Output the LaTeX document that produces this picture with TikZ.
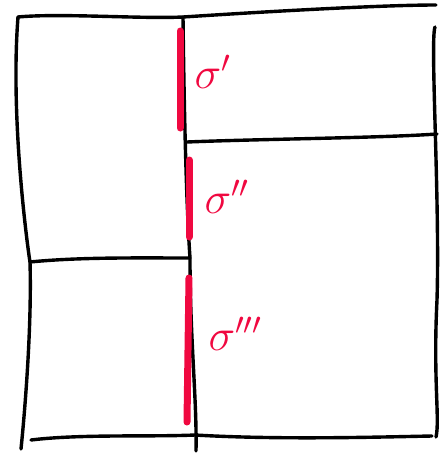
\documentclass[tikz,border=0pt]{standalone}
\usepackage{tikz}
\definecolor{pen}{RGB}{240,8,64}
\tikzset{
  ink/.style={line width=3.4pt, line cap=round, line join=round, black},
  hl/.style={line width=7pt, line cap=round, pen},
  lbl/.style={pen, font=\LARGE, scale=2.6, inner sep=0pt, anchor=west}
}
\begin{document}
\begin{tikzpicture}[x=1pt,y=-1pt]
\useasboundingbox (0,0) rectangle (441,453);
% frame coordinates
\coordinate (tl) at (18,17);
\coordinate (tm) at (183,17);
\coordinate (tr) at (436,5);
\coordinate (rt) at (435,27);
\coordinate (rb) at (436,437);
\coordinate (bl) at (31,440);
\coordinate (bm) at (195,435);
\coordinate (br) at (432,436);
\coordinate (lb) at (21,449);
\coordinate (mb) at (196,451);
\coordinate (ml) at (30,262);
\coordinate (mm) at (190,258);
\coordinate (rm0) at (187,142);
\coordinate (rm1) at (437,134);
% outer lines
\draw[ink] (tl) .. controls (60,13) and (140,19) .. (tm) .. controls (260,12) and (380,5) .. (tr);
\draw[ink] (tl) .. controls (10,120) and (28,250) .. (ml) .. controls (32,330) and (24,420) .. (lb);
\draw[ink] (rt) .. controls (430,40) and (440,200) .. (437,300) .. controls (433,380) and (440,420) .. (rb);
\draw[ink] (bl) .. controls (80,434) and (150,437) .. (bm) .. controls (280,440) and (380,437) .. (br);
% middle vertical
\draw[ink] (tm) .. controls (184,100) and (186,200) .. (mm) .. controls (190,340) and (197,400) .. (mb);
% dividers
\draw[ink] (ml) .. controls (80,257) and (140,258) .. (mm);
\draw[ink] (rm0) .. controls (260,139) and (380,138) .. (rm1);
% red highlights
\coordinate (a1) at (180,31);
\coordinate (a2) at (180,128);
\coordinate (b1) at (189,160);
\coordinate (b2) at (189,237);
\coordinate (c1) at (189,278);
\coordinate (c2) at (187,422);
\draw[hl] (a1) -- (a2);
\draw[hl] (b1) -- (b2);
\draw[hl] (c1) -- (c2);
% labels
\node[lbl] (s1) at (194,72) {$\sigma^{\prime}$};
\node[lbl] (s2) at (204,197) {$\sigma^{\prime\prime}$};
\node[lbl] (s3) at (208,334) {$\sigma^{\prime\prime\prime}$};
\end{tikzpicture}
\end{document}
